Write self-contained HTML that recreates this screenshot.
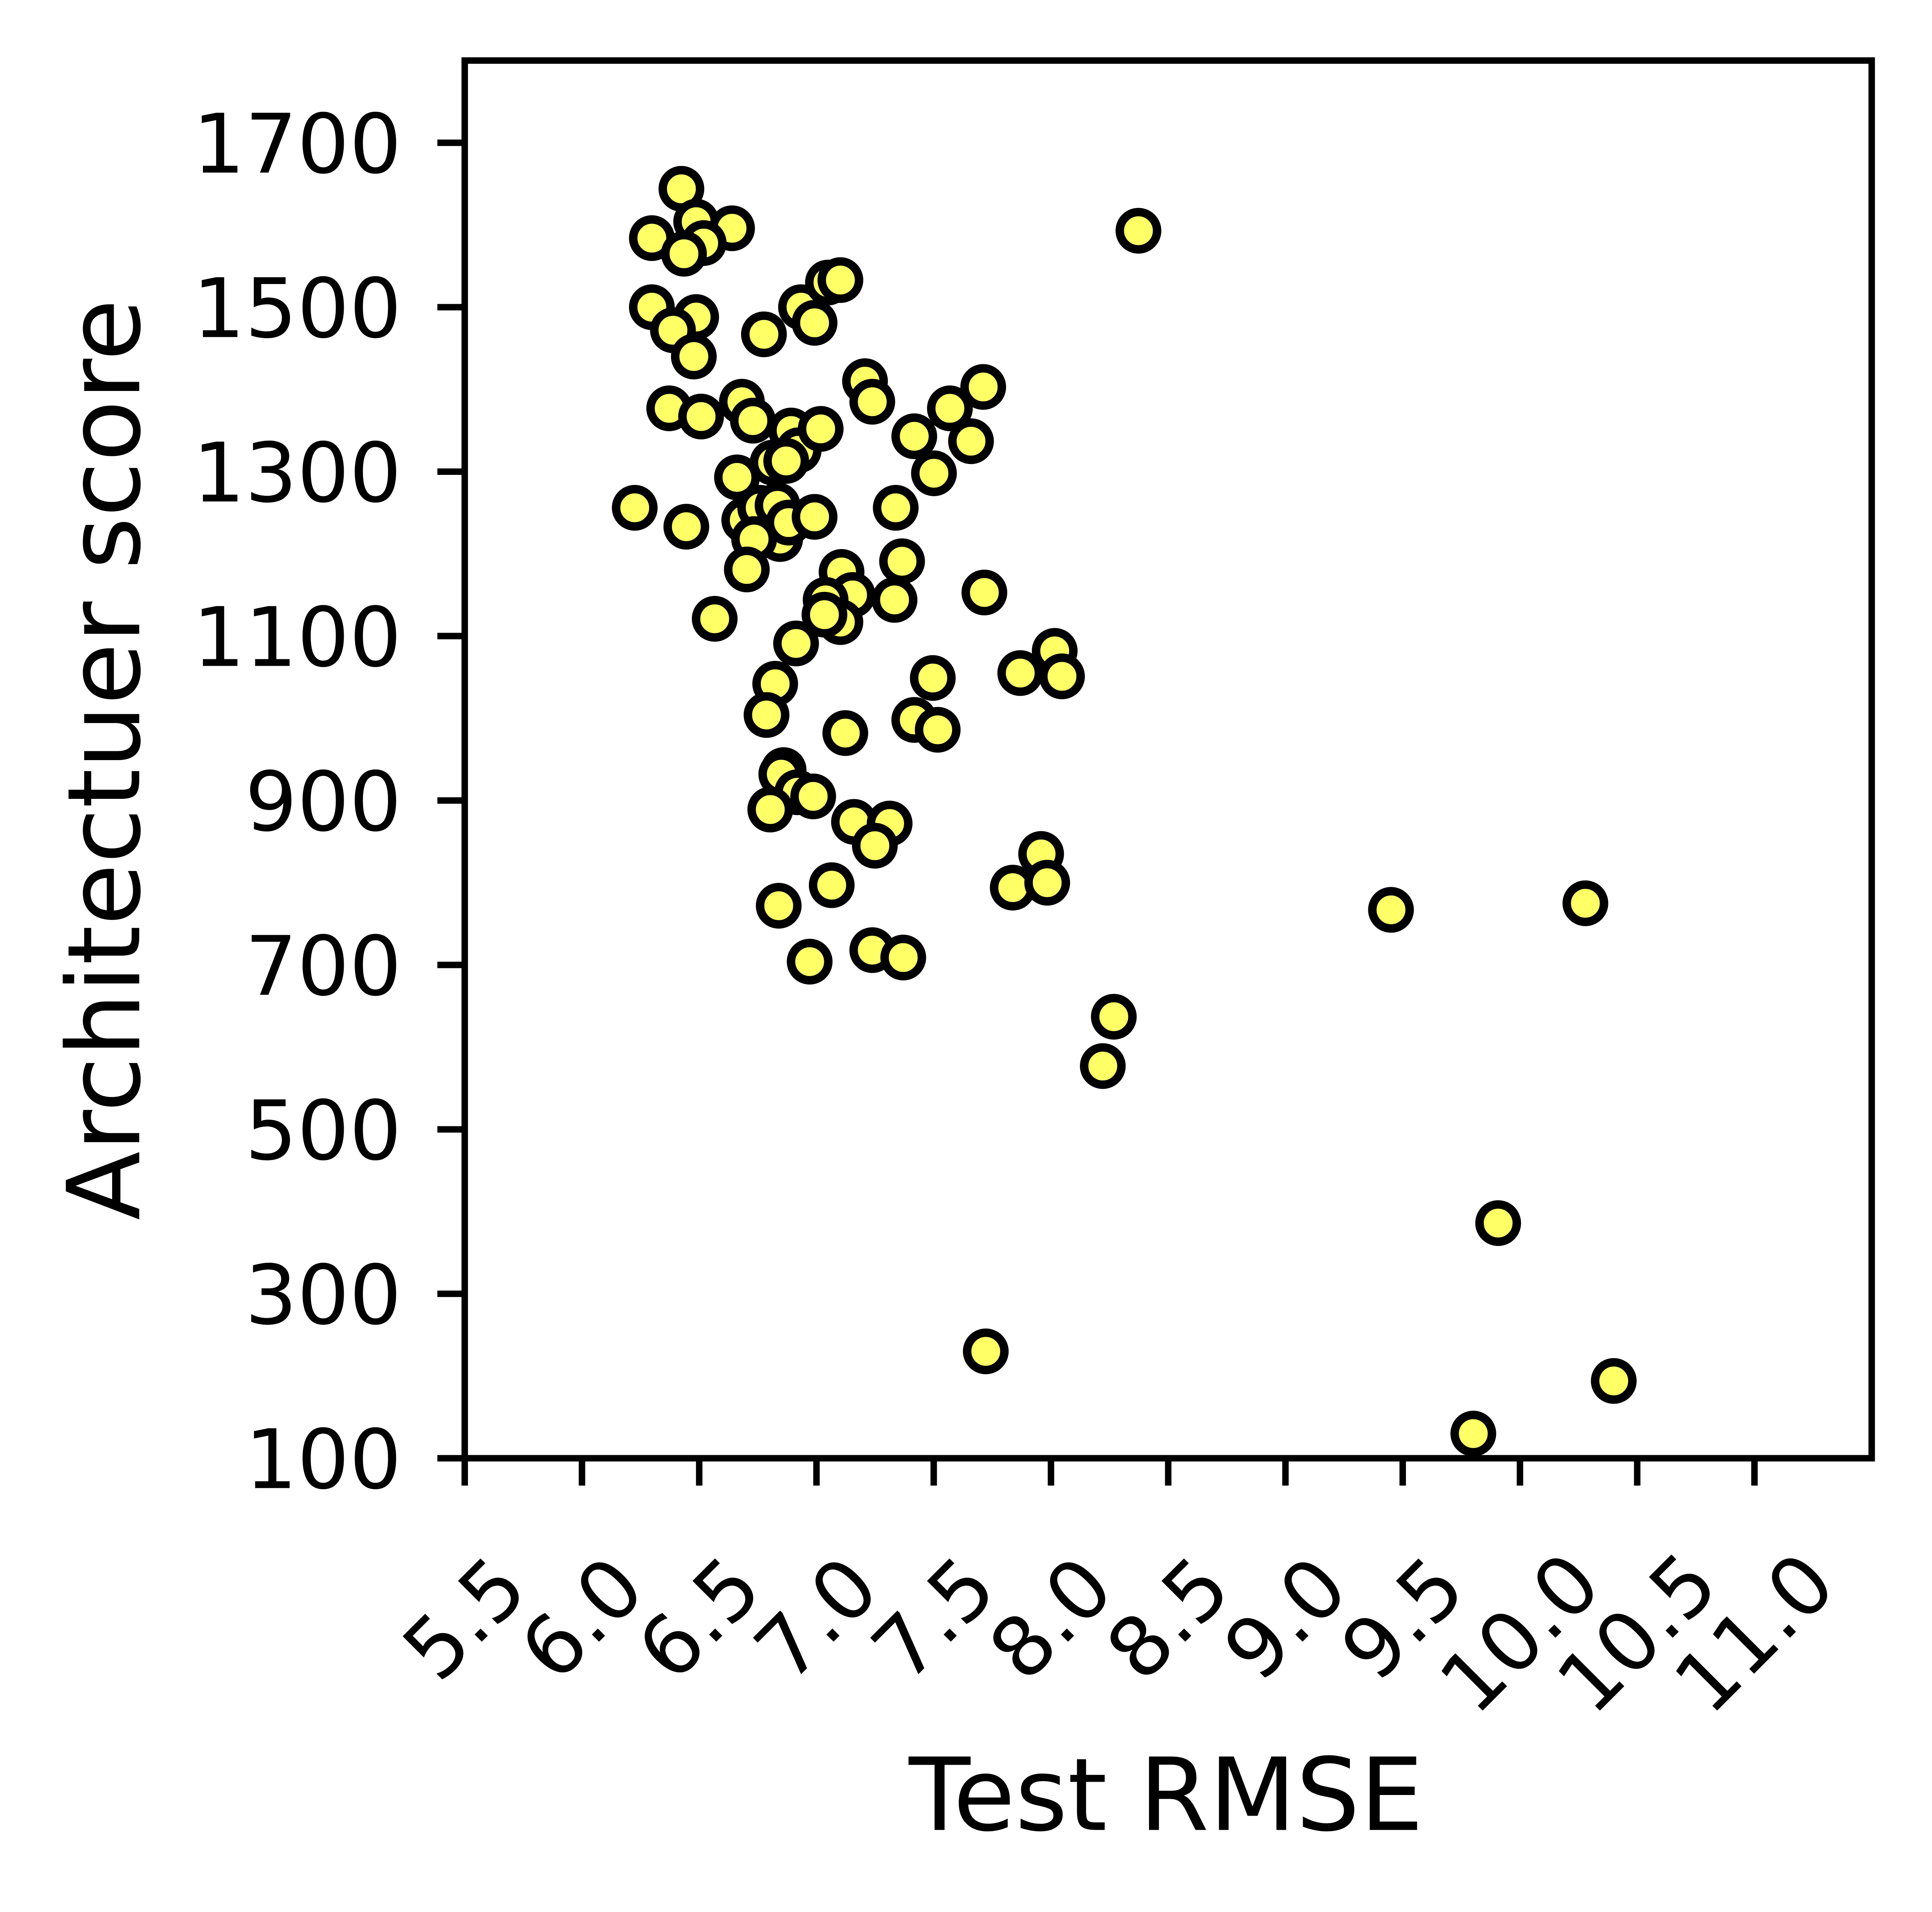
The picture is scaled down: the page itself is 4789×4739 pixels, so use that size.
<!DOCTYPE html>
<html><head><meta charset="utf-8"><style>
html,body{margin:0;padding:0;background:#fff;}
svg{display:block;}
text{font-family:"DejaVu Sans","Liberation Sans",sans-serif;fill:#000;}
</style></head><body>
<svg id="chart" width="4789" height="4739" viewBox="0 0 1554 1538" preserveAspectRatio="none" xmlns="http://www.w3.org/2000/svg">
<rect x="0" y="0" width="1554" height="1538" fill="#fff"/>
<g id="marks"></g>
<g id="axes"></g>
</svg>
<script>
const xValues = [6.424,6.298,6.487,6.640,6.519,6.435,6.298,6.487,6.388,6.477,6.372,6.508,6.225,6.445,6.566,6.682,6.729,6.661,6.892,6.924,6.813,6.871,6.692,6.760,6.834,6.845,6.734,6.703,6.881,6.992,6.776,6.934,6.992,7.049,7.102,7.018,7.207,7.238,7.417,7.569,7.711,7.659,7.501,7.338,7.365,7.107,7.154,7.039,7.102,7.034,7.333,6.913,6.824,6.787,7.123,7.496,7.417,7.517,7.716,7.869,8.016,8.047,6.860,6.850,6.918,6.986,6.803,7.160,7.312,7.249,7.065,6.839,6.971,7.238,7.370,7.958,7.837,7.984,8.373,8.268,8.221,7.722,9.450,10.279,9.907,10.400,9.801];
const yValues = [1644,1584,1604,1596,1578,1565,1500,1488,1472,1440,1377,1367,1256,1233,1121,1385,1362,1293,1350,1326,1311,1313,1241,1256,1259,1218,1218,1181,1238,1245,1467,1500,1481,1530,1533,1352,1410,1385,1343,1377,1403,1337,1298,1256,1191,1178,1150,1144,1117,1126,1144,1091,1042,1004,982,1049,998,986,1153,1055,1082,1051,937,932,910,905,889,874,872,845,797,772,704,718,709,835,794,800,1593,637,577,230,767,775,386,194,130];
const xTicks = [5.5,6.0,6.5,7.0,7.5,8.0,8.5,9.0,9.5,10.0,10.5,11.0];
const xTickLabels = ["5.5","6.0","6.5","7.0","7.5","8.0","8.5","9.0","9.5","10.0","10.5","11.0"];
const yTicks = [100,300,500,700,900,1100,1300,1500,1700];
const yTickLabels = ["100","300","500","700","900","1100","1300","1500","1700"];

const L=373.8,R=1505.5,T=48.7,B=1173;
const xMin=5.5,xMax=11.5,yMin=100,yMax=1800;
const sx=v=>L+(v-xMin)/(xMax-xMin)*(R-L);
const sy=v=>B-(v-yMin)/(yMax-yMin)*(B-T);
const NS="http://www.w3.org/2000/svg";
function mk(tag,attrs,parent){const e=document.createElementNS(NS,tag);for(const k in attrs)e.setAttribute(k,attrs[k]);parent.appendChild(e);return e;}

const marks=document.getElementById('marks');
xValues.forEach((x,i)=>{
  const c=mk('circle',{cx:sx(x),cy:sy(yValues[i]),r:15,fill:'#ffff66',stroke:'#000','stroke-width':6.8},marks);
  
  
});

const ax=document.getElementById('axes');
const frame=mk('rect',{x:L,y:T,width:R-L,height:B-T,fill:'none',stroke:'#000','stroke-width':5.2},ax);



xTicks.forEach((v,i)=>{
  const x=sx(v);
  const t=mk('line',{x1:x,y1:B,x2:x,y2:B+22,stroke:'#000','stroke-width':5.2},ax);
  
  
  const s=xTickLabels[i];
  const w=s.length*0.5*66;
  const cy=1250+(w*0.707+48*0.707)/2;
  const tx=mk('text',{x:x,y:cy,'font-size':66,'text-anchor':'middle','dominant-baseline':'central',transform:`rotate(-45 ${x} ${cy})`},ax);
  tx.textContent=s;
  
  
});
yTicks.forEach((v,i)=>{
  const y=sy(v);
  const t=mk('line',{x1:L-22,y1:y,x2:L,y2:y,stroke:'#000','stroke-width':5.2},ax);
  
  
  const tx=mk('text',{x:323,y:y+24,'font-size':66,'text-anchor':'end'},ax);
  tx.textContent=yTickLabels[i];
  
  
});
const xl=mk('text',{x:938,y:1472,'font-size':81,'text-anchor':'middle'},ax);
xl.textContent='Test RMSE';


const yl=mk('text',{x:112,y:611,'font-size':81,'text-anchor':'middle',transform:'rotate(-90 112 611)'},ax);
yl.textContent='Architectuer score';


</script>
</body></html>
